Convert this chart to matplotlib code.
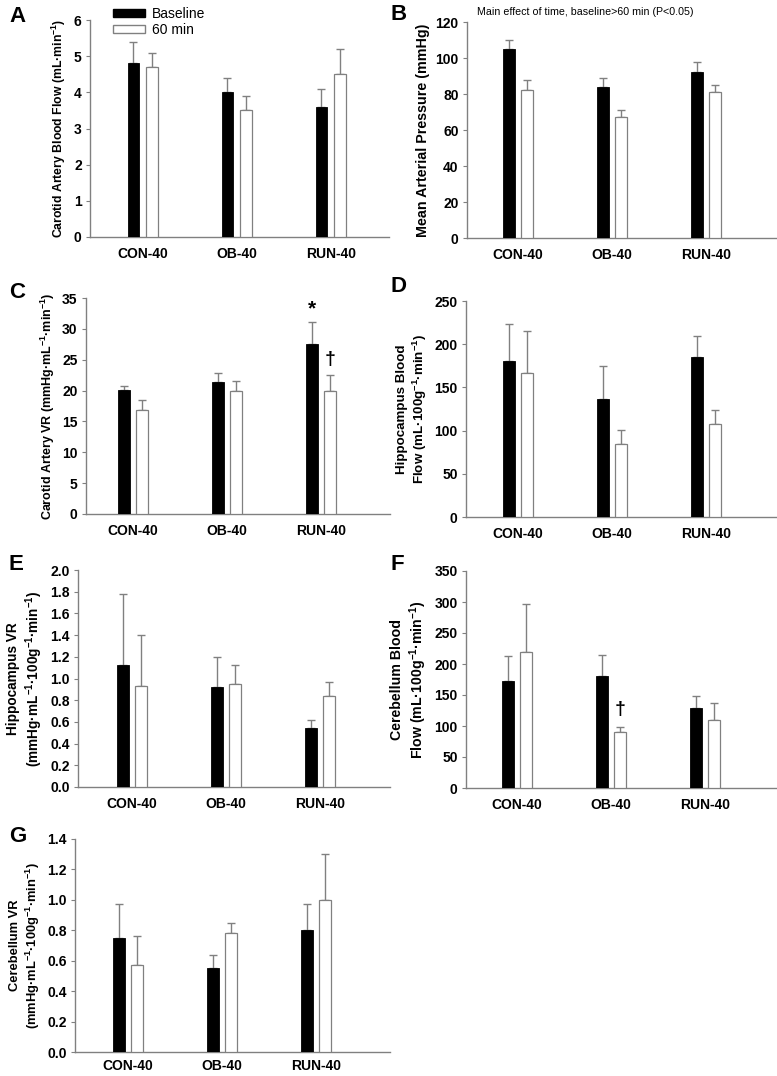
import numpy as np
import matplotlib
matplotlib.use("Agg")
import matplotlib.pyplot as plt
from matplotlib.patches import Patch

plt.rcParams['font.family'] = ['Liberation Sans', 'DejaVu Sans']
plt.rcParams['mathtext.fontset'] = 'custom'
plt.rcParams['mathtext.rm'] = 'Liberation Sans:bold'
plt.rcParams['mathtext.bf'] = 'Liberation Sans:bold'
plt.rcParams['mathtext.default'] = 'bf'

groups = ["CON-40", "OB-40", "RUN-40"]

# panel values: baseline / 60 min means and upper error (SE)
a_base = [4.8, 4.0, 3.6]
a_base_err = [0.6, 0.4, 0.5]
a_60 = [4.7, 3.5, 4.5]
a_60_err = [0.4, 0.4, 0.7]

b_base = [105, 84, 92]
b_base_err = [5, 5, 6]
b_60 = [82, 67, 81]
b_60_err = [6, 4, 4]

c_base = [20.1, 21.4, 27.6]
c_base_err = [0.7, 1.5, 3.5]
c_60 = [16.8, 20.0, 19.9]
c_60_err = [1.6, 1.6, 2.7]

d_base = [181, 137, 185]
d_base_err = [42, 38, 24]
d_60 = [167, 84, 108]
d_60_err = [48, 17, 16]

e_base = [1.12, 0.92, 0.54]
e_base_err = [0.66, 0.28, 0.08]
e_60 = [0.93, 0.95, 0.84]
e_60_err = [0.47, 0.17, 0.13]

f_base = [173, 181, 129]
f_base_err = [40, 33, 20]
f_60 = [219, 91, 110]
f_60_err = [78, 8, 27]

g_base = [0.75, 0.55, 0.80]
g_base_err = [0.22, 0.09, 0.17]
g_60 = [0.57, 0.78, 1.00]
g_60_err = [0.19, 0.07, 0.30]

W, H = 777, 1076
fig = plt.figure(figsize=(W / 100, H / 100), dpi=100)

GRAY = '#808080'
spacing = 94.0  # pixels between groups


def make_panel(box, c0, base, base_err, post, post_err, ymax, ystep, ylabel,
               letter, letter_xy, fmt='%d', ylabel_size=9, xpad=7):
    x0, y0, x1, y1 = box
    ax = fig.add_axes([x0 / W, 1 - y1 / H, (x1 - x0) / W, (y1 - y0) / H])
    x = np.arange(len(groups))
    bw = 0.124
    off = 0.098
    ax.bar(x - off, base, bw, color='black', edgecolor='black', linewidth=0.6, zorder=3)
    ax.bar(x + off, post, bw, color='white', edgecolor=GRAY, linewidth=0.9, zorder=3)
    for xs, vals, errs in [(x - off, base, base_err), (x + off, post, post_err)]:
        ax.errorbar(xs, vals, yerr=[np.zeros(len(errs)), errs], fmt='none',
                    ecolor=GRAY, elinewidth=1.0, capsize=3, capthick=1.0, zorder=2)
    ax.set_xlim((x0 - c0) / spacing, (x1 - c0) / spacing)
    ax.set_ylim(0, ymax)
    ax.set_yticks(np.arange(0, ymax + ystep / 2, ystep))
    ax.yaxis.set_major_formatter(matplotlib.ticker.FormatStrFormatter(fmt))
    ax.set_xticks(x)
    ax.set_xticklabels(groups)
    for s in ['top', 'right']:
        ax.spines[s].set_visible(False)
    for s in ['left', 'bottom']:
        ax.spines[s].set_color(GRAY)
        ax.spines[s].set_linewidth(1.0)
    ax.tick_params(axis='y', direction='out', length=3, color=GRAY, labelsize=10, pad=3)
    ax.tick_params(axis='x', length=0, labelsize=10, pad=xpad)
    for lab in ax.get_xticklabels() + ax.get_yticklabels():
        lab.set_fontweight('bold')
    ax.set_ylabel(ylabel, fontsize=ylabel_size, fontweight='bold', labelpad=4)
    fig.text(letter_xy[0] / W, 1 - letter_xy[1] / H, letter, fontsize=16,
             fontweight='bold', va='center', ha='left')
    return ax


ax_a = make_panel((90, 20, 389, 237), 142.7, a_base, a_base_err, a_60, a_60_err, 6, 1,
                  'Carotid Artery Blood Flow (mL·min$^{-1}$)', 'A', (9, 17), ylabel_size=8.8)
ax_b = make_panel((467, 22, 777, 238), 518, b_base, b_base_err, b_60, b_60_err, 120, 20,
                  'Mean Arterial Pressure (mmHg)', 'B', (391, 15), ylabel_size=10.3)
ax_c = make_panel((86, 298, 390, 514), 133, c_base, c_base_err, c_60, c_60_err, 35, 5,
                  'Carotid Artery VR (mmHg·mL$^{-1}$·min$^{-1}$)', 'C', (9, 292),
                  ylabel_size=9.0)
ax_d = make_panel((466, 301, 777, 517), 518, d_base, d_base_err, d_60, d_60_err, 250, 50,
                  'Hippocampus Blood\nFlow (mL·100g$^{-1}$·min$^{-1}$)', 'D', (391, 287),
                  ylabel_size=9.6)
ax_e = make_panel((78, 570, 390, 787), 132, e_base, e_base_err, e_60, e_60_err, 2.0, 0.2,
                  'Hippocampus VR\n(mmHg·mL$^{-1}$·100g$^{-1}$·min$^{-1}$)', 'E', (9, 564),
                  fmt='%.1f', ylabel_size=9.8)
ax_f = make_panel((466, 571, 777, 788), 517, f_base, f_base_err, f_60, f_60_err, 350, 50,
                  'Cerebellum Blood\nFlow (mL·100g$^{-1}$·min$^{-1}$)', 'F', (391, 565),
                  ylabel_size=10.2)
ax_g = make_panel((75, 839, 390, 1052), 128, g_base, g_base_err, g_60, g_60_err, 1.4, 0.2,
                  'Cerebellum VR\n(mmHg·mL$^{-1}$·100g$^{-1}$·min$^{-1}$)', 'G', (9, 837),
                  fmt='%.1f', ylabel_size=9.3, xpad=5)

# significance marks
ax_c.text(2 - 0.098, 33.3, '*', ha='center', va='center', fontsize=15, fontweight='bold')
ax_c.text(2 + 0.098, 25.0, '†', ha='center', va='center', fontsize=14, fontweight='bold')
ax_f.text(1 + 0.098, 126, '†', ha='center', va='center', fontsize=14, fontweight='bold')

fig.text(477 / W, 1 - 12 / H, 'Main effect of time, baseline>60 min (P<0.05)',
         fontsize=7.7, ha='left', va='center')

# legend
handles = [Patch(facecolor='black', edgecolor='black', label='Baseline'),
           Patch(facecolor='white', edgecolor=GRAY, label='60 min')]
fig.legend(handles=handles, loc='upper left', bbox_to_anchor=(103 / W, 1 - (-3) / H),
           frameon=False, fontsize=10, handlelength=2.3, handleheight=0.55,
           labelspacing=0.15, handletextpad=0.5, borderpad=0.2)

fig.savefig('out.png', dpi=100)
